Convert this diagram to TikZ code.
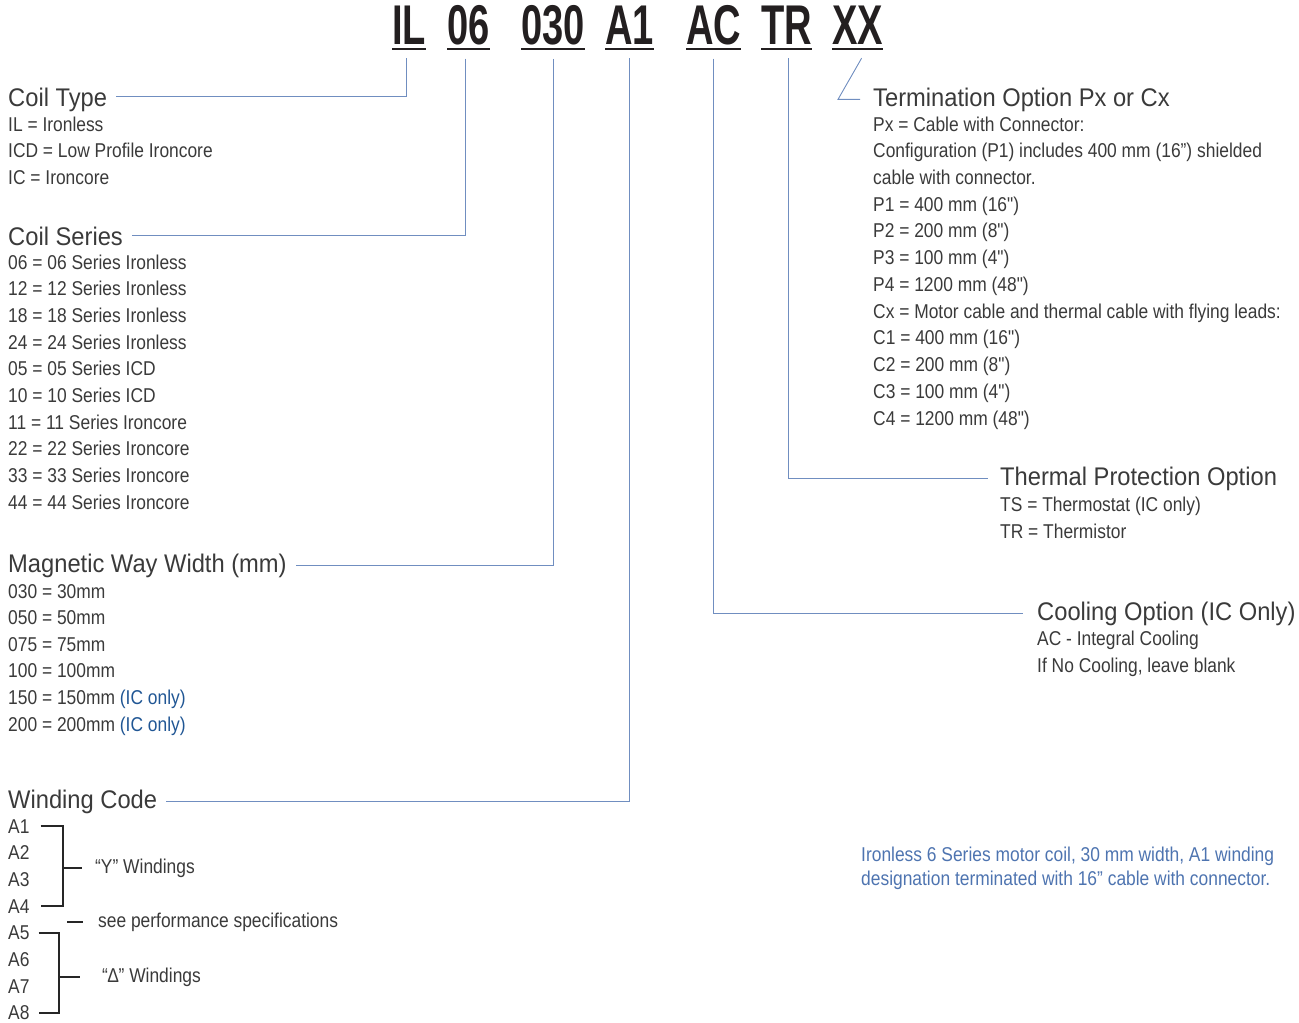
\documentclass[tikz,border=0pt]{standalone}
\usepackage{fontspec}
\setmainfont[FakeStretch=0.87, Ligatures=TeXOff]{Liberation Sans}
\newfontfamily\headfont[FakeStretch=0.93]{Liberation Sans}
\newfontfamily\codefont[FakeStretch=0.68]{Liberation Sans}
\usetikzlibrary{positioning}
\definecolor{txtgray}{RGB}{58,58,58}
\definecolor{codeblack}{RGB}{35,31,32}
\definecolor{leadblue}{RGB}{112,142,192}
\definecolor{noteblue}{RGB}{78,116,176}
\definecolor{icblue}{RGB}{32,86,148}
\newcommand\inch{\char34\relax}

\begin{document}
\begin{tikzpicture}[
  x=1pt, y=-1pt,
  code/.style={font=\codefont\bfseries\fontsize{56}{56}\selectfont, text=codeblack,
               anchor=base west, inner sep=0pt},
  head/.style={font=\headfont\fontsize{25.5}{26}\selectfont, text=txtgray,
               anchor=base west, inner sep=0pt},
  item/.style={font=\fontsize{20}{24}\selectfont, text=txtgray, anchor=base west, inner sep=0pt},
  note/.style={item, text=noteblue},
  lead/.style={draw=leadblue, line width=0.9pt},
  uline/.style={draw=codeblack, line width=2.2pt},
  brace/.style={draw=black!85, line width=2.2pt},
]
\useasboundingbox (0,0) rectangle (1299,1023);

% ---- part number ----
\node[code] (il)  at (392,44) {IL};
\node[code] (ser) at (447,44) {06};
\node[code] (mw)  at (521,44) {030};
\node[code] (wc)  at (605,44) {A1};
\node[code] (ac)  at (686,44) {AC};
\node[code] (tr)  at (761,44) {TR};
\node[code] (xx)  at (832,44) {XX};
\foreach \c in {il,ser,mw,wc,ac,tr,xx}
  \draw[uline] ([yshift=-5pt]\c.base west) -- ([yshift=-5pt]\c.base east);

% ---- left column ----
\node[head] (coiltype) at (8,106) {Coil Type};
\foreach \t [count=\i from 0] in {IL = Ironless, ICD = Low Profile Ironcore, IC = Ironcore}
  \node[item] (ct-\i) at (8,{131+26.8*\i}) {\t};

\node[head] (coilser) at (8,245) {Coil Series};
\foreach \t [count=\i from 0] in {06 = 06 Series Ironless, 12 = 12 Series Ironless,
    18 = 18 Series Ironless, 24 = 24 Series Ironless, 05 = 05 Series ICD,
    10 = 10 Series ICD, 11 = 11 Series Ironcore, 22 = 22 Series Ironcore,
    33 = 33 Series Ironcore, 44 = 44 Series Ironcore}
  \node[item] (cs-\i) at (8,{269+26.67*\i}) {\t};

\node[head] (magway) at (8,572) {Magnetic Way Width (mm)};
\foreach \t [count=\i from 0] in {030 = 30mm, 050 = 50mm, 075 = 75mm, 100 = 100mm,
    {150 = 150mm \textcolor{icblue}{(IC only)}}, {200 = 200mm \textcolor{icblue}{(IC only)}}}
  \node[item] (mw-\i) at (8,{598+26.6*\i}) {\t};

\node[head] (winding) at (8,808) {Winding Code};
\foreach \i in {1,...,8}
  \node[item] (w-\i) at (8,{833+26.7*(\i-1)}) {A\i};
\node[item] (ywind) at (95,873) {“Y” Windings};
\node[item] (seeperf) at (98,927) {see performance specifications};
\node[item] (dwind) at (102,982) {“\char"2206” Windings};

% brackets
\draw[brace] ([xshift=11pt]w-1.east) -- ++(22,0) |- ([xshift=11pt]w-4.east);
\draw[brace] ([xshift=33pt]w-1.east |- ywind.west) -- ([xshift=-13pt]ywind.west);
\draw[brace] ([xshift=-31pt]seeperf.west) -- ([xshift=-15pt]seeperf.west);
\draw[brace] ([xshift=9pt]w-5.east) -- ++(20,0) |- ([xshift=9pt]w-8.east);
\draw[brace] ([xshift=29pt]w-5.east |- dwind.west) -- ([xshift=-22pt]dwind.west);

% ---- right column ----
\node[head] (term) at (873,106) {Termination Option Px or Cx};
\foreach \t [count=\i from 0] in {Px = Cable with Connector:,
    Configuration (P1) includes 400 mm (16”) shielded, cable with connector.,
    P1 = 400 mm (16\inch), P2 = 200 mm (8\inch), P3 = 100 mm (4\inch), P4 = 1200 mm (48\inch),
    Cx = Motor cable and thermal cable with flying leads:,
    C1 = 400 mm (16\inch), C2 = 200 mm (8\inch), C3 = 100 mm (4\inch), C4 = 1200 mm (48\inch)}
  \node[item] (to-\i) at (873,{131+26.73*\i}) {\t};

\node[head] (thermal) at (1000,485) {Thermal Protection Option};
\node[item] (tp-0) at (1000,511) {TS = Thermostat (IC only)};
\node[item] (tp-1) at (1000,538) {TR = Thermistor};

\node[head] (cooling) at (1037,620) {Cooling Option (IC Only)};
\node[item] (co-0) at (1037,645) {AC - Integral Cooling};
\node[item] (co-1) at (1037,672) {If No Cooling, leave blank};

\node[note] (note-0) at (861,861) {Ironless 6 Series motor coil, 30 mm width, A1 winding};
\node[note] (note-1) at (861,885) {designation terminated with 16” cable with connector.};

% ---- leaders ----
\draw[lead] ([xshift=-3pt,yshift=-14pt]il.south)  |- ([xshift=9pt,yshift=2.5pt]coiltype.east);
\draw[lead] ([xshift=-3pt,yshift=-14pt]ser.south) |- ([xshift=9pt]coilser.east);
\draw[lead] ([yshift=-14pt]mw.south)  |- ([xshift=9pt]magway.east);
\draw[lead] ([yshift=-14pt]wc.south)  |- ([xshift=9pt]winding.east);
\draw[lead] ([yshift=-14pt]ac.south)  |- ([xshift=-14pt]cooling.west);
\draw[lead] ([xshift=2pt,yshift=-14pt]tr.south)  |- ([xshift=-12pt]thermal.west);
\draw[lead] ([xshift=4pt,yshift=-14pt]xx.south) -- ([xshift=-35pt]term.west) -- ([xshift=-13pt]term.west);
\end{tikzpicture}
\end{document}
